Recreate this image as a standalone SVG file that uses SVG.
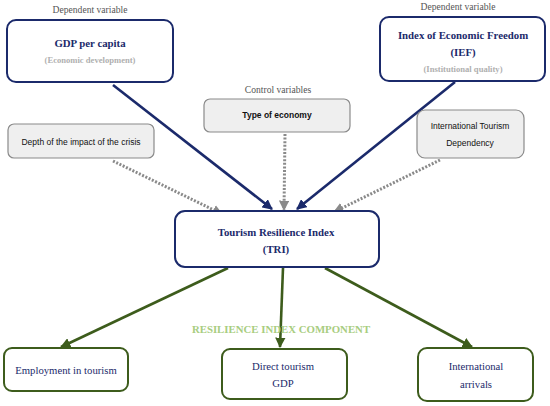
<svg xmlns="http://www.w3.org/2000/svg" width="550" height="406" viewBox="0 0 550 406">
<style>
.nav{fill:#fff;stroke:#1b2a6b;stroke-width:2}
.grn{fill:#fff;stroke:#3d5c1c;stroke-width:2}
.gry{fill:#efefef;stroke:#8a8a8a;stroke-width:1.2}
.t{font-family:"Liberation Serif",serif;text-anchor:middle}
.s{font-family:"Liberation Sans",sans-serif;text-anchor:middle;fill:#111;font-size:8.5px}
.h{font-size:9.6px;fill:#555}
.b{font-size:10.8px;font-weight:bold;fill:#1b2a6b}
.sub{font-size:8.6px;font-weight:bold;fill:#b0b0b0}
.g{font-size:10.7px;fill:#1b2a6b}
.cn{fill:none}
.an{stroke:#1b2a6b;stroke-width:2.6}
.ag{stroke:#3d5c1c;stroke-width:2.6}
.ad{stroke:#8a8a8a;stroke-width:3;stroke-dasharray:2 1.6}
</style>
<defs>
<marker id="mn" viewBox="0 0 10 10" refX="9" refY="5" markerWidth="4" markerHeight="4" orient="auto" markerUnits="strokeWidth"><path d="M0,0 L10,5 L0,10 z" fill="#1b2a6b"/></marker>
<marker id="mg" viewBox="0 0 10 10" refX="9" refY="5" markerWidth="4" markerHeight="4" orient="auto" markerUnits="strokeWidth"><path d="M0,0 L10,5 L0,10 z" fill="#3d5c1c"/></marker>
<marker id="md" viewBox="0 0 10 10" refX="9" refY="5" markerWidth="3.5" markerHeight="3.5" orient="auto" markerUnits="strokeWidth"><path d="M0,0 L10,5 L0,10 z" fill="#8a8a8a"/></marker>
</defs>
<g id="connectors" class="cn">
<line class="an" x1="113" y1="85" x2="272" y2="209" marker-end="url(#mn)"/>
<line class="an" x1="455" y1="82" x2="297" y2="209" marker-end="url(#mn)"/>
<line class="ad" x1="285" y1="134" x2="284" y2="210" marker-end="url(#md)"/>
<line class="ad" x1="113" y1="161" x2="222" y2="214" marker-end="url(#md)"/>
<line class="ad" x1="440" y1="160" x2="334" y2="212" marker-end="url(#md)"/>
<line class="ag" x1="228" y1="268" x2="61" y2="347" marker-end="url(#mg)"/>
<line class="ag" x1="283" y1="268" x2="280" y2="347" marker-end="url(#mg)"/>
<line class="ag" x1="325" y1="268" x2="472" y2="347" marker-end="url(#mg)"/>
</g>
<g id="gdp">
<text class="t h" x="90" y="13">Dependent variable</text>
<rect class="nav" x="7" y="20" width="166" height="62" rx="9"/>
<text class="t b" x="90" y="47">GDP per capita</text>
<text class="t sub" x="90" y="63">(Economic development)</text>
</g>
<g id="ief">
<text class="t h" x="458" y="10">Dependent variable</text>
<rect class="nav" x="380" y="17" width="165" height="64" rx="9"/>
<text class="t b" x="463" y="39">Index of Economic Freedom</text>
<text class="t b" x="463" y="56">(IEF)</text>
<text class="t sub" x="463" y="72">(Institutional quality)</text>
</g>
<g id="type">
<text class="t h" x="278" y="93">Control variables</text>
<rect class="gry" x="204" y="99" width="146" height="33" rx="6"/>
<text class="s" x="277" y="118" font-weight="bold">Type of economy</text>
</g>
<g id="depth">
<rect class="gry" x="8" y="124" width="146" height="34" rx="6"/>
<text class="s" x="81" y="145">Depth of the impact of the crisis</text>
</g>
<g id="itd">
<rect class="gry" x="417" y="110" width="107" height="48" rx="8"/>
<text class="s" x="470" y="129">International Tourism</text>
<text class="s" x="470" y="146">Dependency</text>
</g>
<g id="tri">
<rect class="nav" x="175" y="211" width="204" height="56" rx="10"/>
<text class="t b" x="276" y="236">Tourism Resilience Index</text>
<text class="t b" x="276" y="253">(TRI)</text>
</g>
<text class="t" x="281" y="333" font-size="10.8" font-weight="bold" fill="#a8cd80">RESILIENCE INDEX COMPONENT</text>
<g id="employment">
<rect class="grn" x="4" y="348" width="124" height="43" rx="8"/>
<text class="t g" x="66" y="374">Employment in tourism</text>
</g>
<g id="direct">
<rect class="grn" x="222" y="349" width="125" height="50" rx="8"/>
<text class="t g" x="283" y="370">Direct tourism</text>
<text class="t g" x="283" y="387">GDP</text>
</g>
<g id="arrivals">
<rect class="grn" x="418" y="348" width="115" height="53" rx="9"/>
<text class="t g" x="476" y="370">International</text>
<text class="t g" x="476" y="388">arrivals</text>
</g>
</svg>
